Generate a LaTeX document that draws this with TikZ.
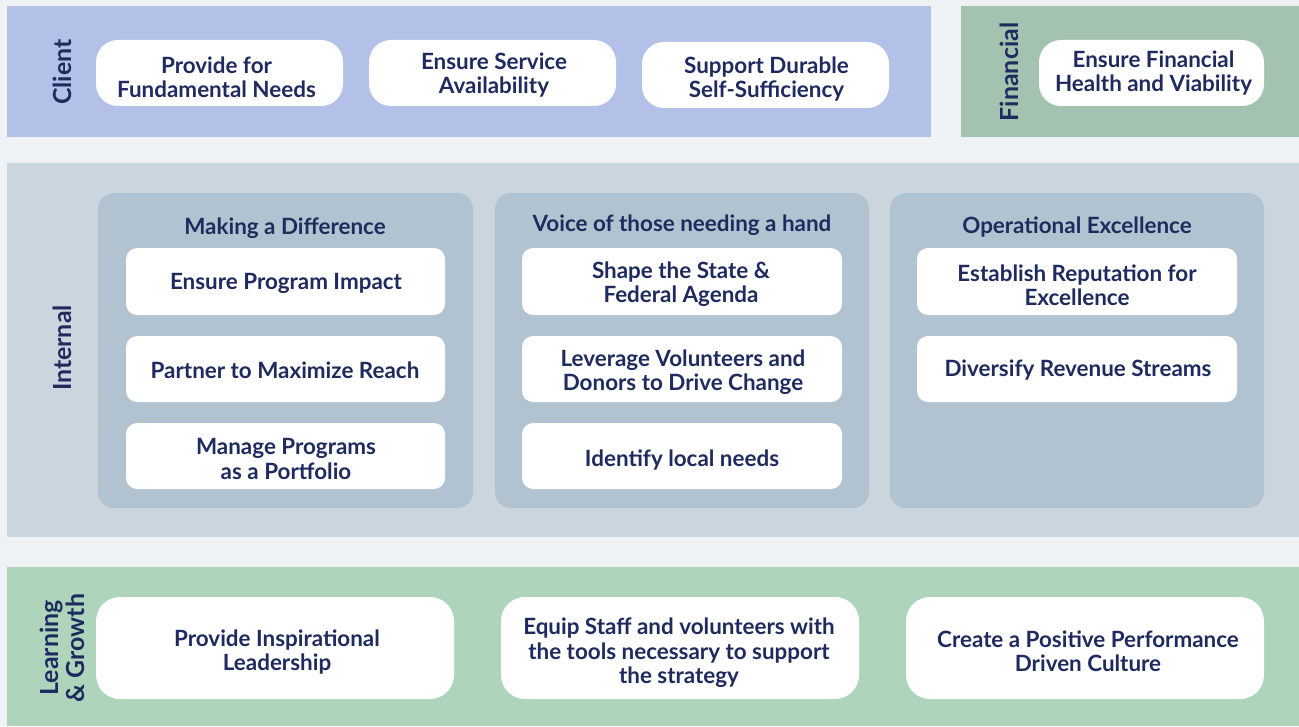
\documentclass[tikz,border=0pt]{standalone}
\usepackage{fontspec}
\setmainfont{Lato}
\definecolor{bgc}{HTML}{EEF2F5}
\definecolor{clientc}{HTML}{B3C1E8}
\definecolor{finc}{HTML}{A3C2AF}
\definecolor{intc}{HTML}{CBD5DE}
\definecolor{grpc}{HTML}{B1C3D0}
\definecolor{learnc}{HTML}{AED5BC}
\definecolor{txtc}{HTML}{1F2B5E}
\tikzset{
  band/.style={fill=#1, draw=none},
  grp/.style={fill=grpc, draw=none, rounded corners=16bp},
  pillbox/.style={fill=white, draw=none, rounded corners=22bp},
  ibox/.style={fill=white, draw=none, rounded corners=11bp},
  lbox/.style={fill=white, draw=none, rounded corners=24bp},
  lbl/.style={text=txtc, font=\fontsize{22.5}{24.5}\selectfont\bfseries, align=center, inner sep=0pt, yshift=-2bp},
  side/.style={text=txtc, font=\fontsize{25}{26}\selectfont\bfseries, align=center, inner sep=0pt, rotate=90},
}
\begin{document}
\begin{tikzpicture}[x=1bp,y=-1bp]
\fill[bgc] (0,0) rectangle (1299,726);
\useasboundingbox (0,0) rectangle (1299,726);
% bands
\fill[band=clientc] (7,6) rectangle (931,137);
\fill[band=finc] (961,6) rectangle (1299,137);
\fill[band=intc] (7,163) rectangle (1299,537);
\fill[band=learnc] (7,567) rectangle (1299,726);
% side labels
\node[side] (lclient) at (62,72) {Client};
\node[side] (lfin) at (1009,72) {Financial};
\node[side] (lint) at (62,348) {Internal};
\node[side] (llearn) at (62,648) {Learning\\\& Growth};
% client boxes
\fill[pillbox] (96,40) rectangle (343,106);
\node[lbl] (c1) at (216.5,75) {Provide for\\Fundamental Needs};
\fill[pillbox] (369,40) rectangle (616,106);
\node[lbl] (c2) at (494,73) {Ensure Service\\Availability};
\fill[pillbox] (642,42) rectangle (889,108);
\node[lbl] (c3) at (766.5,77) {Support Durable\\Self-Sufficiency};
\fill[pillbox] (1039,40) rectangle (1264,106);
\node[lbl] (f1) at (1153.5,71) {Ensure Financial\\Health and Viability};
% groups
\fill[grp] (98,193) rectangle (473,508);
\fill[grp] (495,193) rectangle (869,508);
\fill[grp] (890,193) rectangle (1264,508);
\node[lbl] (g1) at (285,226) {Making a Difference};
\node[lbl] (g2) at (682,223) {Voice of those needing a hand};
\node[lbl] (g3) at (1077,225) {Operational Excellence};
% group 1
\fill[ibox] (126,248) rectangle (445,315);
\node[lbl] (a1) at (286,281) {Ensure Program Impact};
\fill[ibox] (126,336) rectangle (445,402);
\node[lbl] (a2) at (285,368) {Partner to Maximize Reach};
\fill[ibox] (126,423) rectangle (445,489);
\node[lbl] (a3) at (286,457) {Manage Programs\\as a Portfolio};
% group 2
\fill[ibox] (522,248) rectangle (842,315);
\node[lbl] (b1) at (681,282) {Shape the State \&\\Federal Agenda};
\fill[ibox] (522,336) rectangle (842,402);
\node[lbl] (b2) at (683,370) {Leverage Volunteers and\\Donors to Drive Change};
\fill[ibox] (522,423) rectangle (842,489);
\node[lbl] (b3) at (682,458) {Identify local needs};
% group 3
\fill[ibox] (917,248) rectangle (1237,315);
\node[lbl] (d1) at (1077,283) {Establish Reputation for\\Excellence};
\fill[ibox] (917,336) rectangle (1237,402);
\node[lbl] (d2) at (1078,368) {Diversify Revenue Streams};
% learning
\fill[lbox] (96,597) rectangle (454,699);
\node[lbl] (e1) at (277,650) {Provide Inspirational\\Leadership};
\fill[lbox] (501,597) rectangle (859,699);
\node[lbl] (e2) at (679,651) {Equip Staff and volunteers with\\the tools necessary to support\\the strategy};
\fill[lbox] (906,597) rectangle (1264,699);
\node[lbl] (e3) at (1088,649) {Create a Positive Performance\\Driven Culture};
\end{tikzpicture}
\end{document}
